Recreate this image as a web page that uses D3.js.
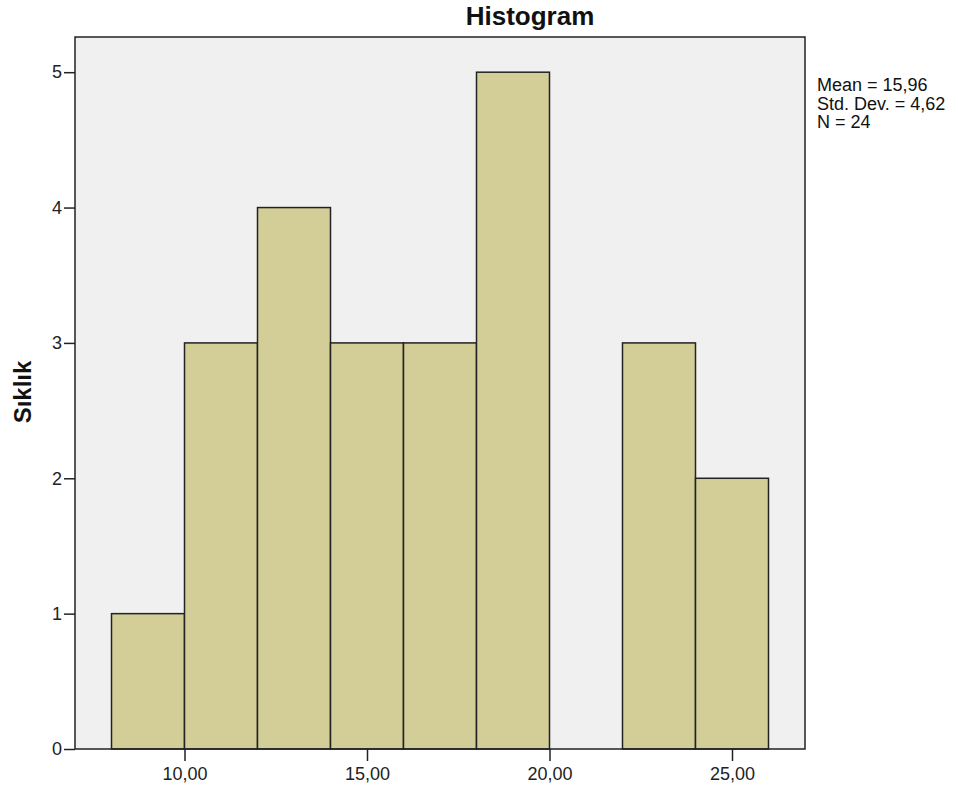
<!DOCTYPE html>
<html><head><meta charset="utf-8">
<script src="https://cdn.jsdelivr.net/npm/d3@7"></script>
<style>body{margin:0;background:#fff}svg{display:block}</style>
</head><body>
<script>
const binStarts = [8, 10, 12, 14, 16, 18, 20, 22, 24];
const binWidth = 2;
const frequencies = [1, 3, 4, 3, 3, 5, 0, 3, 2];
const xTicks = [10, 15, 20, 25];
const yTicks = [0, 1, 2, 3, 4, 5];
const statsLines = ["Mean = 15,96", "Std. Dev. = 4,62", "N = 24"];
const titleText = "Histogram";
const yLabel = "Sıklık";

const W = 958, H = 791;
const m = {left: 75, top: 37, right: 805, bottom: 749};
const svg = d3.select("body").append("svg").attr("width", W).attr("height", H);
const x = d3.scaleLinear().domain([7, 27]).range([m.left, m.right]);
const y = d3.scaleLinear().domain([0, 5.26]).range([m.bottom, m.top]);
const font = "Arial, 'Liberation Sans', sans-serif";

svg.append("rect").attr("x", m.left).attr("y", m.top).attr("width", m.right - m.left).attr("height", m.bottom - m.top)
  .attr("fill", "#f0f0f0");

const bins = binStarts.map((s, i) => ({x0: s, x1: s + binWidth, n: frequencies[i]})).filter(d => d.n > 0);
svg.append("g").selectAll("rect").data(bins).join("rect")
  .attr("x", d => x(d.x0)).attr("y", d => y(d.n))
  .attr("width", d => x(d.x1) - x(d.x0)).attr("height", d => y(0) - y(d.n))
  .attr("fill", "#d3ce97").attr("stroke", "#222").attr("stroke-width", 1.5);

svg.append("rect").attr("x", m.left).attr("y", m.top).attr("width", m.right - m.left).attr("height", m.bottom - m.top)
  .attr("fill", "none").attr("stroke", "#222").attr("stroke-width", 1.5);

const xAxis = svg.append("g").attr("transform", `translate(0,${m.bottom})`)
  .call(d3.axisBottom(x).tickValues(xTicks).tickSize(12).tickPadding(6).tickFormat(d => d3.format(".2f")(d).replace(".", ",")));
xAxis.select(".domain").remove();
xAxis.selectAll("line").attr("stroke", "#222").attr("stroke-width", 1.5);
xAxis.selectAll("text").attr("font-family", font).attr("font-size", 18).attr("fill", "#222");

const yAxis = svg.append("g").attr("transform", `translate(${m.left},0)`)
  .call(d3.axisLeft(y).tickValues(yTicks).tickSize(11).tickPadding(2).tickFormat(d3.format("d")));
yAxis.select(".domain").remove();
yAxis.selectAll("line").attr("stroke", "#222").attr("stroke-width", 1.5);
yAxis.selectAll("text").attr("font-family", font).attr("font-size", 18).attr("fill", "#222");

svg.append("text").attr("x", 530).attr("y", 25).attr("text-anchor", "middle")
  .attr("font-family", font).attr("font-weight", "bold").attr("font-size", 26).attr("fill", "#111").text(titleText);

svg.append("text").attr("transform", "translate(31,392) rotate(-90)").attr("text-anchor", "middle")
  .attr("font-family", font).attr("font-weight", "bold").attr("font-size", 24).attr("fill", "#111").text(yLabel);

svg.append("g").selectAll("text").data(statsLines).join("text")
  .attr("x", 817).attr("y", (d, i) => 91 + i * 18.5)
  .attr("font-family", font).attr("font-size", 18).attr("fill", "#111").text(d => d);
</script>
</body></html>
